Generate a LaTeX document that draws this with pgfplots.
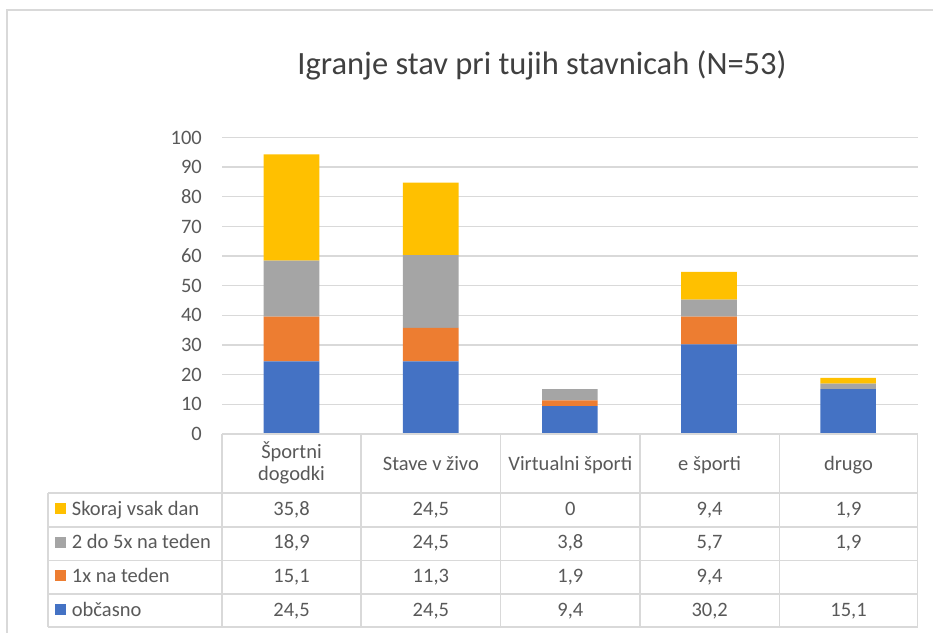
\documentclass[border=0pt]{standalone}
\usepackage{fontspec}
\setmainfont{Carlito}
\usepackage{pgfplots}
\pgfplotsset{compat=1.18}

\definecolor{cBlue}{HTML}{4472C4}
\definecolor{cOrange}{HTML}{ED7D31}
\definecolor{cGray}{HTML}{A5A5A5}
\definecolor{cYellow}{HTML}{FFC000}
\definecolor{gridgray}{HTML}{D9D9D9}
\definecolor{txtgray}{HTML}{595959}
\definecolor{titlegray}{HTML}{404040}

% pixel position, y measured from the top of the picture
\newcommand{\px}[2]{({#1pt},{632pt-#2pt})}
\newcommand{\tf}{\fontsize{20.5}{24}\selectfont}

\begin{document}
\begin{tikzpicture}
\useasboundingbox (0,0) rectangle (933pt,632pt);

% chart area frame
\draw[gridgray, line width=1.5pt] \px{7}{640} -- \px{7}{10} -- \px{940}{10};

\node[anchor=base, text=titlegray, font=\fontsize{32.5}{38}\selectfont] at \px{542}{75}
  {Igranje stav pri tujih stavnicah (N=53)};

\begin{axis}[
    at={(222pt,198pt)}, anchor=south west,
    scale only axis,
    width=695.7pt, height=296.5pt,
    xmin=-0.5, xmax=4.5,
    ymin=0, ymax=100,
    ybar stacked,
    bar width=0.4,
    ytick={0,10,...,100},
    xtick=\empty,
    ymajorgrids,
    grid style={draw=gridgray, line width=1.3pt},
    axis line style={draw=none},
    major tick length=0pt,
    /pgf/number format/assume math mode=true,
    yticklabel style={font=\tf, text=txtgray, inner sep=0pt, xshift=-20pt},
]
% obcasno
\addplot[fill=cBlue, draw=none] coordinates {(0,24.5) (1,24.5) (2,9.4) (3,30.2) (4,15.1)};
% 1x na teden
\addplot[fill=cOrange, draw=none] coordinates {(0,15.1) (1,11.3) (2,1.9) (3,9.4) (4,0)};
% 2 do 5x na teden
\addplot[fill=cGray, draw=none] coordinates {(0,18.9) (1,24.5) (2,3.8) (3,5.7) (4,1.9)};
% skoraj vsak dan
\addplot[fill=cYellow, draw=none] coordinates {(0,35.8) (1,24.5) (2,0) (3,9.4) (4,1.9)};
\end{axis}

% data table grid
\begin{scope}[gridgray, line width=1.5pt]
  \draw \px{222}{434} -- \px{917.7}{434};
  \foreach \yy in {493,527,560.5,594,627}
    \draw \px{48}{\yy} -- \px{917.7}{\yy};
  \draw \px{48}{493} -- \px{48}{627};
  \foreach \xx in {222,361,500.7,640,779.3,917.7}
    \draw \px{\xx}{434} -- \px{\xx}{627};
\end{scope}

% column headers
\begin{scope}[every node/.style={anchor=base, text=txtgray, font=\tf, inner sep=0pt}]
  \node at \px{291.5}{458.5} {Športni};
  \node at \px{291.5}{480} {dogodki};
  \node at \px{430.85}{470} {Stave v živo};
  \node at \px{570.35}{470} {Virtualni športi};
  \node at \px{709.65}{470} {e športi};
  \node at \px{848.5}{470} {drugo};
\end{scope}

% row keys and labels
\begin{scope}[every node/.style={anchor=base west, text=txtgray, font=\tf, inner sep=0pt}]
  \fill[cYellow] \px{55}{503} rectangle \px{66}{514};
  \node at \px{71.7}{515} {Skoraj vsak dan};
  \fill[cGray] \px{55}{536.5} rectangle \px{66}{547.5};
  \node at \px{71.7}{548.5} {2 do 5x na teden};
  \fill[cOrange] \px{55}{570} rectangle \px{66}{581};
  \node at \px{71.7}{582} {1x na teden};
  \fill[cBlue] \px{55}{604} rectangle \px{66}{615};
  \node at \px{71.7}{616} {občasno};
\end{scope}

% table values
\begin{scope}[every node/.style={anchor=base, text=txtgray, font=\tf, inner sep=0pt}]
  \node at \px{291.5}{515} {35,8};   \node at \px{291.5}{548.5} {18,9};
  \node at \px{291.5}{582} {15,1};   \node at \px{291.5}{616} {24,5};
  \node at \px{430.85}{515} {24,5};  \node at \px{430.85}{548.5} {24,5};
  \node at \px{430.85}{582} {11,3};  \node at \px{430.85}{616} {24,5};
  \node at \px{570.35}{515} {0};     \node at \px{570.35}{548.5} {3,8};
  \node at \px{570.35}{582} {1,9};   \node at \px{570.35}{616} {9,4};
  \node at \px{709.65}{515} {9,4};   \node at \px{709.65}{548.5} {5,7};
  \node at \px{709.65}{582} {9,4};   \node at \px{709.65}{616} {30,2};
  \node at \px{848.5}{515} {1,9};    \node at \px{848.5}{548.5} {1,9};
  \node at \px{848.5}{616} {15,1};
\end{scope}
\end{tikzpicture}
\end{document}
